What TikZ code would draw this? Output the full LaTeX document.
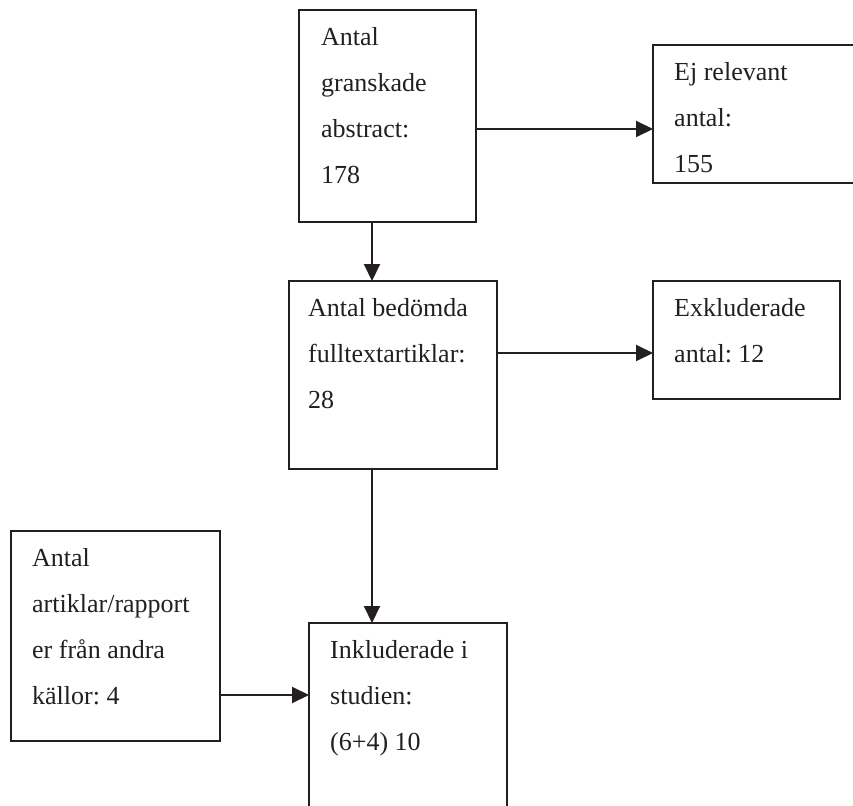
\documentclass[tikz,border=0pt]{standalone}
\usepackage{fontspec}
\setmainfont{Liberation Serif}
\usetikzlibrary{arrows.meta}
\definecolor{ink}{HTML}{231F20}
\frenchspacing
\begin{document}
\begin{tikzpicture}[x=1pt,y=-1pt,
  box/.style={draw=ink,line width=2pt,rectangle,inner sep=0pt,outer sep=0pt,anchor=north west},
  txt/.style={anchor=north west,inner sep=0pt,align=left,text=ink,font=\frenchspacing\fontsize{26}{46}\selectfont},
  arr/.style={draw=ink,line width=2pt,-{Triangle[length=17pt,width=16pt]}}]
\useasboundingbox (0,0) rectangle (853,805);
\clip (0,0) rectangle (853,805);
% boxes
\node[box,minimum width=177pt,minimum height=212pt] (b1) at (299,10) {};
\node[box,minimum width=250pt,minimum height=138pt] (b2) at (653,45) {};
\node[box,minimum width=208pt,minimum height=188pt] (b3) at (289,281) {};
\node[box,minimum width=187pt,minimum height=118pt] (b4) at (653,281) {};
\node[box,minimum width=209pt,minimum height=210pt] (b5) at (11,531) {};
\node[box,minimum width=198pt,minimum height=260pt] (b6) at (309,623) {};
% texts
\node[txt] (t1) at (321,25) {\rule{0pt}{20pt}Antal\\granskade\\abstract:\\178};
\node[txt] (t2) at (674,60) {\rule{0pt}{20pt}Ej relevant\\antal:\\155};
\node[txt] (t3) at (308,296) {\rule{0pt}{20pt}Antal bedömda\\fulltextartiklar:\\28};
\node[txt] (t4) at (674,296) {\rule{0pt}{20pt}Exkluderade\\antal: 12};
\node[txt] (t5) at (32,546) {\rule{0pt}{20pt}Antal\\artiklar/rapport\\er från andra\\källor: 4};
\node[txt] (t6) at (330,638) {\rule{0pt}{20pt}Inkluderade i\\studien:\\(6+4) 10};
% arrows
\draw[arr] ([yshift=-119pt]b1.north east) -- ([yshift=-119pt]b1.north east -| b2.west);
\draw[arr] ([xshift=73pt]b1.south west) -- ([xshift=73pt]b1.south west |- b3.north);
\draw[arr] ([yshift=-72pt]b3.north east) -- ([yshift=-72pt]b3.north east -| b4.west);
\draw[arr] ([xshift=83pt]b3.south west) -- ([xshift=83pt]b3.south west |- b6.north);
\draw[arr] ([yshift=-164pt]b5.north east) -- ([yshift=-164pt]b5.north east -| b6.west);
\end{tikzpicture}
\end{document}
